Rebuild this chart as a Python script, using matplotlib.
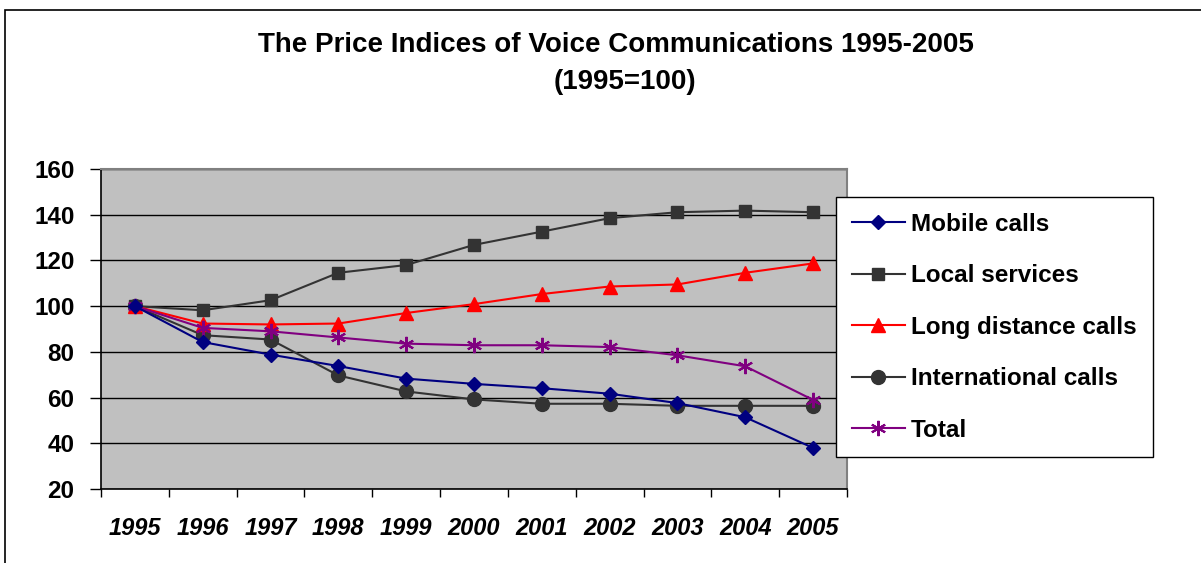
import matplotlib.pyplot as plt
from matplotlib.patches import Rectangle
import numpy as np

plt.rcParams['font.family'] = ['Liberation Sans', 'DejaVu Sans']

years = ['1995', '1996', '1997', '1998', '1999', '2000', '2001', '2002', '2003', '2004', '2005']
mobile = [100, 84.3, 78.8, 73.8, 68.3, 66.0, 64.1, 61.7, 57.6, 51.4, 38.0]
local = [100, 98.2, 102.6, 114.6, 118.0, 126.8, 132.6, 138.5, 141.1, 141.8, 141.1]
long_distance = [100, 92.4, 92.0, 92.4, 97.0, 100.9, 105.3, 108.6, 109.5, 114.6, 118.7]
international = [100, 87.3, 85.4, 69.7, 62.7, 59.2, 57.3, 57.3, 56.4, 56.4, 56.4]
total = [100, 90.5, 89.0, 86.3, 83.6, 82.9, 82.9, 82.1, 78.5, 73.7, 59.0]

fig = plt.figure(figsize=(12.01, 5.63), dpi=100)
ax = fig.add_axes([0.0841, 0.1314, 0.6211, 0.5684])

# outer chart border
fig.patches.append(Rectangle((5 / 1201, -0.05), 1.2, 1 - 10 / 563 + 0.05,
                             transform=fig.transFigure, fill=False,
                             edgecolor='black', linewidth=1.2))

x = np.arange(len(years))
ax.plot(x, mobile, color='#000080', marker='D', markersize=7, lw=1.5, label='Mobile calls', zorder=5)
ax.plot(x, local, color='#333333', marker='s', markersize=9, lw=1.5, label='Local services', zorder=4)
ax.plot(x, long_distance, color='#FF0000', marker='^', markersize=10, lw=1.5, label='Long distance calls', zorder=4)
ax.plot(x, international, color='#333333', marker='o', markersize=10, lw=1.5, label='International calls', zorder=3)
ax.plot(x, total, color='#800080', marker=(6, 2, 0), markersize=11, mew=1.5, lw=1.5, label='Total', zorder=4)

ax.set_facecolor('#C0C0C0')
ax.set_xlim(-0.5, 10.5)
ax.set_ylim(20, 160)
ax.set_yticks(np.arange(20, 161, 20))
ax.yaxis.grid(True, color='black', linewidth=1)
ax.set_axisbelow(True)

ax.set_xticks(x)
ax.set_xticklabels(years, fontsize=17, fontweight='bold', fontstyle='italic')
ax.set_xticks(np.arange(-0.5, 11, 1), minor=True)
ax.tick_params(axis='x', which='major', length=0, pad=20)
ax.tick_params(axis='x', which='minor', length=6, width=1, direction='out')
ax.tick_params(axis='y', length=8, width=1, direction='out', labelsize=17.5, pad=11)
for lab in ax.get_yticklabels():
    lab.set_fontweight('bold')

for side in ['top', 'right']:
    ax.spines[side].set_color('#808080')
    ax.spines[side].set_linewidth(1.5)
for side in ['left', 'bottom']:
    ax.spines[side].set_color('black')
    ax.spines[side].set_linewidth(1.2)

fig.text(0.513, 0.92, 'The Price Indices of Voice Communications 1995-2005',
         ha='center', va='center', fontsize=20, fontweight='bold')
fig.text(0.520, 0.854, '(1995=100)', ha='center', va='center', fontsize=20, fontweight='bold')

leg = fig.legend(loc='upper left', bbox_to_anchor=(0.696, 0.650), frameon=True,
                 fancybox=False, edgecolor='black', framealpha=1,
                 prop={'size': 17.5, 'weight': 'bold'}, labelspacing=1.17,
                 handlelength=2.2, handletextpad=0.25, borderpad=0.65,
                 borderaxespad=0)
leg.get_frame().set_linewidth(1)

fig.savefig('out.png', dpi=100)
